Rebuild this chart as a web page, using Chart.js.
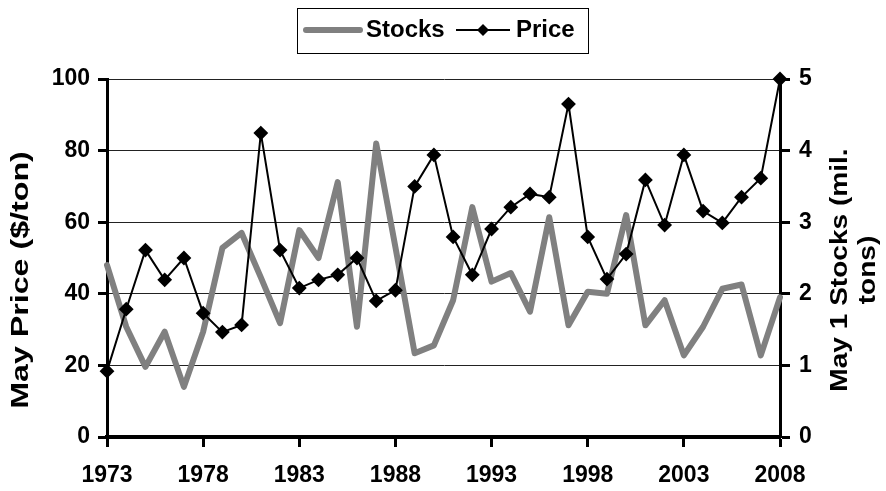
<!DOCTYPE html>
<html>
<head>
  <meta charset="UTF-8">
  <title>May Price and May 1 Stocks</title>
  <script src="https://cdn.jsdelivr.net/npm/chart.js"></script>
  <style>
    body { margin: 0; background: #fff; }
    #wrap { width: 886px; height: 491px; }
  </style>
</head>
<body>
  <div id="wrap"><canvas id="grafico" width="886" height="491"></canvas></div>

  <script>
    // years 1973..2008
    const anos = ['1973','1974','1975','1976','1977','1978','1979','1980','1981','1982',
                  '1983','1984','1985','1986','1987','1988','1989','1990','1991','1992',
                  '1993','1994','1995','1996','1997','1998','1999','2000','2001','2002',
                  '2003','2004','2005','2006','2007','2008'];

    // May price, $/ton (left axis)
    const preco = [18.4, 35.7, 52.2, 43.9, 50.0, 34.6, 29.3, 31.3, 84.9, 52.2,
                   41.6, 43.9, 45.3, 50.0, 38.0, 41.0, 70.0, 78.8, 55.9, 45.3,
                   58.1, 64.2, 67.9, 67.0, 93.0, 55.9, 44.1, 51.1, 71.8, 59.2,
                   78.8, 63.1, 59.8, 67.0, 72.3, 100.0];

    // May 1 stocks, mil. tons (right axis)
    const estoques = [2.40, 1.54, 0.98, 1.47, 0.70, 1.47, 2.64, 2.85, 2.23, 1.59,
                      2.89, 2.50, 3.56, 1.54, 4.10, 2.65, 1.17, 1.28, 1.91, 3.21,
                      2.17, 2.29, 1.75, 3.07, 1.56, 2.03, 2.00, 3.10, 1.56, 1.91,
                      1.14, 1.54, 2.07, 2.13, 1.14, 1.95];

    const fonte = 'Arial, "Liberation Sans", sans-serif';

    // legend box + rotated axis titles
    const extras = {
      id: 'extras',
      afterDraw(chart) {
        const ctx = chart.ctx;
        ctx.save();
        // legend
        ctx.strokeStyle = '#000';
        ctx.lineWidth = 1;
        ctx.strokeRect(297.5, 8.5, 291, 45);
        ctx.strokeStyle = '#808080';
        ctx.lineWidth = 6;
        ctx.lineCap = 'round';
        ctx.beginPath(); ctx.moveTo(306, 30); ctx.lineTo(360, 30); ctx.stroke();
        ctx.lineCap = 'butt';
        ctx.strokeStyle = '#000';
        ctx.lineWidth = 2;
        ctx.beginPath(); ctx.moveTo(456, 30); ctx.lineTo(510, 30); ctx.stroke();
        ctx.fillStyle = '#000';
        ctx.beginPath();
        ctx.moveTo(483, 24); ctx.lineTo(489, 30); ctx.lineTo(483, 36); ctx.lineTo(477, 30);
        ctx.closePath(); ctx.fill();
        ctx.font = 'bold 24px ' + fonte;
        ctx.textBaseline = 'middle';
        ctx.textAlign = 'left';
        ctx.fillText(chart.data.datasets[0].label, 366, 30);
        ctx.fillText(chart.data.datasets[1].label, 516, 30);

        // left title
        ctx.font = 'bold 23px ' + fonte;
        ctx.textAlign = 'center';
        ctx.save();
        ctx.translate(22, 280);
        ctx.rotate(-Math.PI / 2);
        ctx.scale(1.4, 1);
        ctx.fillText('May Price ($/ton)', 0, 0);
        ctx.restore();

        // right title (two lines)
        ctx.save();
        ctx.translate(841, 270);
        ctx.rotate(-Math.PI / 2);
        ctx.scale(1.22, 1);
        ctx.fillText('May 1 Stocks (mil.', 0, 0);
        ctx.fillText('tons)', 0, 28);
        ctx.restore();
        ctx.restore();
      }
    };

    const grafico = new Chart(document.getElementById('grafico').getContext('2d'), {
      type: 'line',
      data: {
        labels: anos,
        datasets: [
          {
            label: 'Stocks',
            data: estoques,
            yAxisID: 'y1',
            borderColor: '#808080',
            borderWidth: 6,
            borderJoinStyle: 'round',
            borderCapStyle: 'round',
            pointRadius: 0,
            tension: 0,
            order: 2
          },
          {
            label: 'Price',
            data: preco,
            yAxisID: 'y',
            borderColor: '#000',
            borderWidth: 2,
            pointStyle: 'rectRot',
            pointRadius: 6,
            pointBackgroundColor: '#000',
            pointBorderColor: '#000',
            tension: 0,
            clip: false,
            order: 1
          }
        ]
      },
      options: {
        responsive: false,
        animation: false,
        layout: { padding: { top: 79, left: 0, right: 0, bottom: 0 } },
        plugins: { legend: { display: false }, tooltip: { enabled: false } },
        scales: {
          x: {
            type: 'category',
            offset: false,
            afterFit: s => { s.height = 54; },
            border: { display: true, color: '#000', width: 4 },
            grid: {
              drawOnChartArea: false,
              tickLength: 10,
              tickWidth: 3,
              tickColor: c => (c.index % 5 === 0 ? '#000' : 'rgba(0,0,0,0)')
            },
            ticks: {
              autoSkip: false,
              maxRotation: 0,
              padding: 15,
              color: '#000',
              font: { family: fonte, size: 23, weight: 'bold' },
              callback: function (v, i) { return i % 5 === 0 ? this.getLabelForValue(v) : ''; }
            }
          },
          y: {
            position: 'left',
            min: 0,
            max: 100,
            afterFit: s => { s.width = 107; },
            border: { display: true, color: '#000', width: 3 },
            grid: { color: '#222', lineWidth: 1, tickLength: 9, tickWidth: 3, tickColor: '#000' },
            ticks: {
              stepSize: 20,
              padding: 8,
              color: '#000',
              font: { family: fonte, size: 23, weight: 'bold' }
            }
          },
          y1: {
            position: 'right',
            min: 0,
            max: 5,
            afterFit: s => { s.width = 106; },
            border: { display: true, color: '#000', width: 3 },
            grid: { drawOnChartArea: false, tickLength: 10, tickWidth: 3, tickColor: '#000' },
            ticks: {
              stepSize: 1,
              padding: 9,
              color: '#000',
              font: { family: fonte, size: 23, weight: 'bold' }
            }
          }
        }
      },
      plugins: [extras]
    });
  </script>
</body>
</html>
